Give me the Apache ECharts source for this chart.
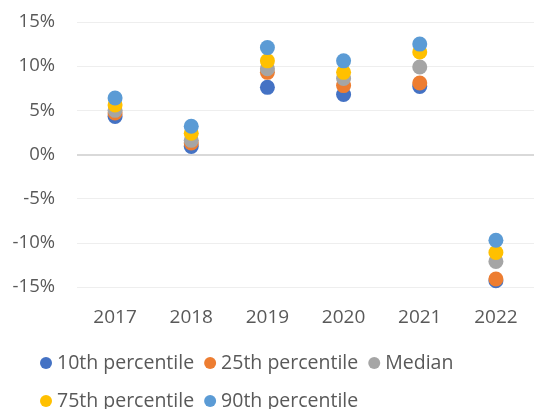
<!DOCTYPE html>
<html>
<head>
<meta charset="utf-8">
<script src="https://cdn.jsdelivr.net/npm/echarts@6/dist/echarts.min.js"></script>
<style>
  html, body { margin: 0; padding: 0; background: #fff; }
  #main { width: 534px; height: 409px; }
</style>
</head>
<body>
<div id="main"></div>
<script>
// values, in percent
var years = ['2017', '2018', '2019', '2020', '2021', '2022'];
var p10 = [4.3, 0.9, 7.6, 6.8, 7.7, -14.3];
var p25 = [4.7, 1.3, 9.3, 7.8, 8.1, -14.1];
var median = [5.0, 1.6, 9.7, 8.6, 9.9, -12.1];
var p75 = [5.6, 2.4, 10.6, 9.3, 11.6, -11.1];
var p90 = [6.4, 3.2, 12.1, 10.6, 12.5, -9.7];

var names = ['10th percentile', '25th percentile', 'Median', '75th percentile', '90th percentile'];
var colors = ['#4472C4', '#ED7D31', '#A5A5A5', '#FFC000', '#5B9BD5'];
var values = [p10, p25, median, p75, p90];

var font = '"Open Sans", "Noto Sans", sans-serif';
var textColor = '#595959';

var myChart = echarts.init(document.getElementById('main'));

var series = values.map(function (v, i) {
  var s = {
    name: names[i],
    type: 'scatter',
    data: v,
    symbol: 'circle',
    symbolSize: 15,
    itemStyle: { color: colors[i], opacity: 1 },
    emphasis: { disabled: true }
  };
  if (i === 0) {
    // darker zero line
    s.markLine = {
      silent: true,
      symbol: 'none',
      label: { show: false },
      lineStyle: { color: '#d9d9d9', width: 2, type: 'solid' },
      data: [{ yAxis: 0 }],
      z: 1
    };
  }
  return s;
});

var legendText = { color: textColor, fontSize: 19.5, fontFamily: font };

myChart.setOption({
  animation: false,
  color: colors,
  grid: { left: 77, right: 0, top: 22, bottom: 122 },
  xAxis: {
    type: 'category',
    data: years,
    axisLine: { show: false, onZero: false },
    axisTick: { show: false },
    axisLabel: { color: textColor, fontSize: 19, fontFamily: font, margin: 21 },
    splitLine: { show: false }
  },
  yAxis: {
    type: 'value',
    min: -15,
    max: 15,
    interval: 5,
    axisLine: { show: false },
    axisTick: { show: false },
    axisLabel: {
      color: textColor, fontSize: 18.5, fontFamily: font, margin: 22,
      formatter: function (v) { return v + '%'; }
    },
    splitLine: { lineStyle: { color: '#eeeeee', width: 1 } }
  },
  legend: [
    {
      data: names.slice(0, 3),
      left: 35, top: 348,
      icon: 'circle', itemWidth: 12, itemHeight: 12, itemGap: 10,
      textStyle: legendText
    },
    {
      data: names.slice(3),
      left: 35, top: 386,
      icon: 'circle', itemWidth: 12, itemHeight: 12, itemGap: 10,
      textStyle: legendText
    }
  ],
  series: series
});
</script>
</body>
</html>
